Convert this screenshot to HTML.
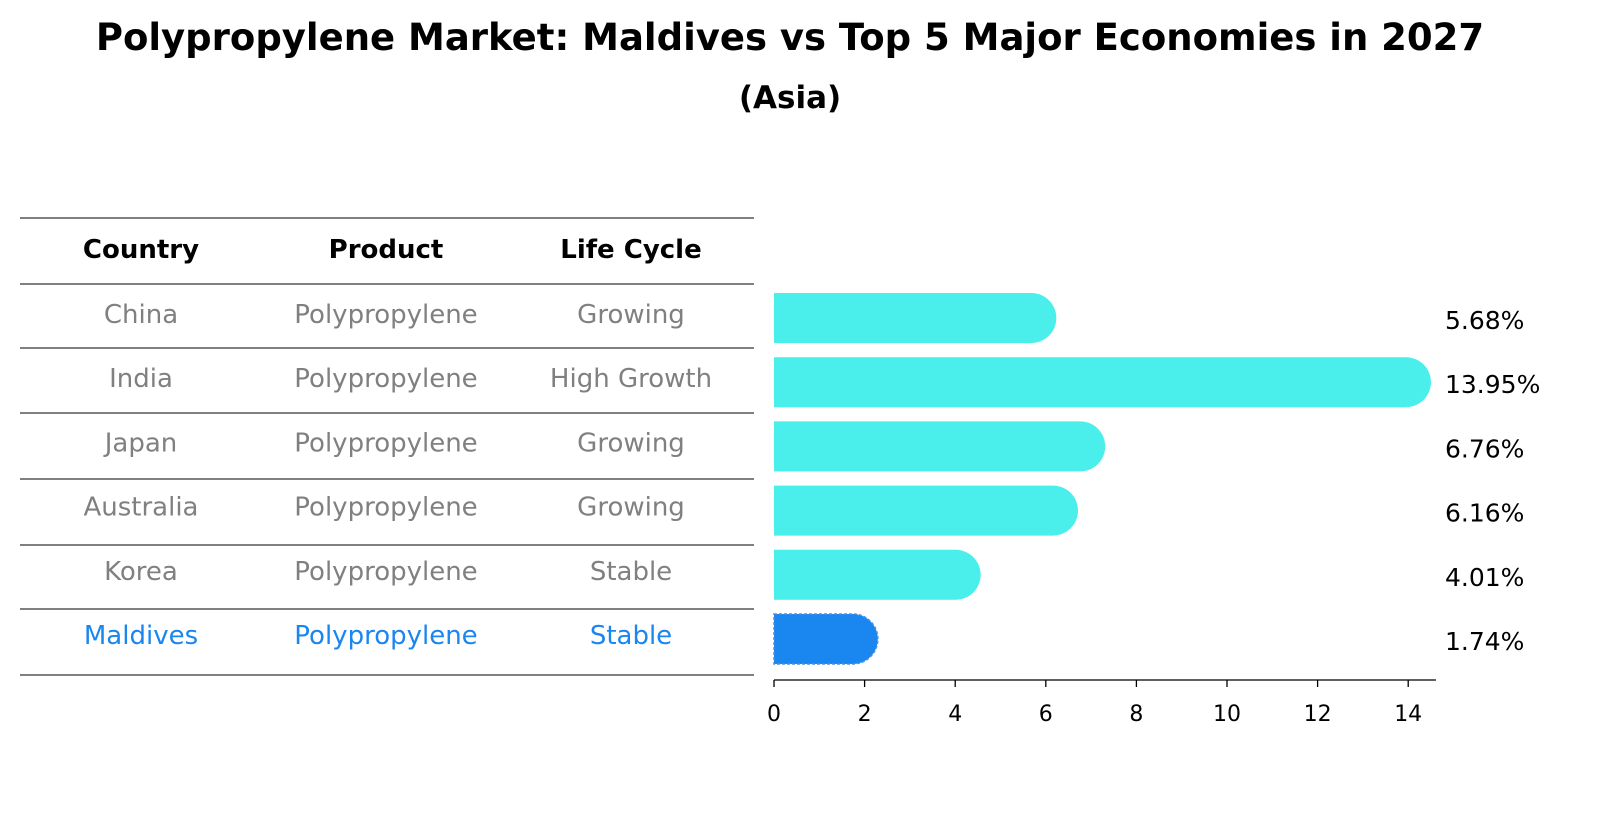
<!DOCTYPE html>
<html><head><meta charset="utf-8"><style>
body{margin:0;background:#fff;font-family:"Liberation Sans","DejaVu Sans",sans-serif;}
svg text{font-family:"DejaVu Sans","Liberation Sans",sans-serif;}
</style></head><body>
<svg id="c" width="1604" height="823" xmlns="http://www.w3.org/2000/svg">
<text x="790" y="50" text-anchor="middle" font-size="37" font-weight="bold">Polypropylene Market: Maldives vs Top 5 Major Economies in 2027</text>
<text x="790" y="108" text-anchor="middle" font-size="31" font-weight="bold">(Asia)</text>
<g id="tbl"></g>
<g id="bars"></g>
</svg>
<script>
const countries=["China","India","Japan","Australia","Korea","Maldives"];
const products=["Polypropylene","Polypropylene","Polypropylene","Polypropylene","Polypropylene","Polypropylene"];
const lifecycle=["Growing","High Growth","Growing","Growing","Stable","Stable"];
const values=[5.68,13.95,6.76,6.16,4.01,1.74];
const ticks=[0,2,4,6,8,10,12,14];
const NS="http://www.w3.org/2000/svg";
function mk(t,a,p){const e=document.createElementNS(NS,t);for(const k in a)e.setAttribute(k,a[k]);p.appendChild(e);return e;}
const tbl=document.getElementById('tbl'),bars=document.getElementById('bars');
const lineY=[218,284,348,413,479,545,609,675];
lineY.forEach((y,i)=>{const l=mk('line',{x1:20,x2:754,y1:y,y2:y,stroke:'#000','stroke-width':1},tbl);

});
const colX=[141,386,631];
["Country","Product","Life Cycle"].forEach((h,i)=>{const t=mk('text',{x:colX[i],y:258,'text-anchor':'middle','font-size':26,'font-weight':'bold'},tbl);t.textContent=h;

});
const x=v=>774+v*45.3;
const rowY=i=>318+i*64.2;
countries.forEach((c,i)=>{
 const col=i===5?'#1a86f0':'#808080';
 [c,products[i],lifecycle[i]].forEach((s,j)=>{const t=mk('text',{x:colX[j],y:rowY(i)+5,'text-anchor':'middle','font-size':26,fill:col},tbl);t.textContent=s;
 
 });
 const cy=rowY(i),h=50,r=25;
 const fill=i===5?'#1a86f0':'#4aeeea';
 const end=x(values[i]);
 const p=mk('path',{d:`M774 ${cy-h/2} H${end} A${r} ${r} 0 0 1 ${end} ${cy+h/2} H774 Z`,fill:fill},bars);
 if(i===5){p.setAttribute('stroke','#4a90e2');p.setAttribute('stroke-dasharray','3 2');p.setAttribute('stroke-width','1.5');}
 
 
 const t=mk('text',{x:1445,y:cy+11,'font-size':25},bars);t.textContent=values[i].toFixed(2)+'%';
 
 
});
const ax=mk('line',{x1:774,x2:1436,y1:680,y2:680,stroke:'#000','stroke-width':1.3},bars);


ticks.forEach(v=>{const l=mk('line',{x1:x(v),x2:x(v),y1:680,y2:687,stroke:'#000','stroke-width':1.3},bars);


const t=mk('text',{x:x(v),y:721,'text-anchor':'middle','font-size':22},bars);t.textContent=v;

});
</script>
</body></html>
